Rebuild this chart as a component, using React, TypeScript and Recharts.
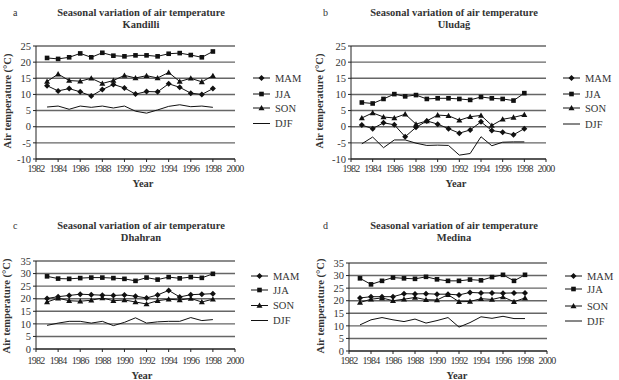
import React from "react";
import { LineChart, Line, XAxis, YAxis, CartesianGrid } from "recharts";

const years = [1983, 1984, 1985, 1986, 1987, 1988, 1989, 1990, 1991, 1992, 1993, 1994, 1995, 1996, 1997, 1998];
const yearTicks = [1982, 1984, 1986, 1988, 1990, 1992, 1994, 1996, 1998, 2000];
const seasons = ["MAM", "JJA", "SON", "DJF"];
const ticksTurkey = [-10, -5, 0, 5, 10, 15, 20, 25];
const ticksArabia = [0, 5, 10, 15, 20, 25, 30, 35];

// Kandilli
const kandilliMAM = [12.7, 11.1, 11.8, 10.8, 9.5, 11.5, 13.1, 12.0, 10.1, 10.9, 10.8, 13.3, 12.2, 10.4, 10.0, 11.8];
const kandilliJJA = [21.3, 21.0, 21.5, 22.7, 21.5, 22.9, 22.0, 21.8, 22.1, 22.1, 21.8, 22.6, 22.8, 22.2, 21.5, 23.3];
const kandilliSON = [14.0, 16.3, 14.3, 14.1, 15.0, 13.4, 14.3, 15.9, 15.1, 15.8, 15.1, 16.8, 14.0, 15.0, 13.9, 15.8];
const kandilliDJF = [6.1, 6.4, 5.4, 6.4, 6.0, 6.4, 5.8, 6.4, 4.8, 4.2, 5.2, 6.3, 6.8, 6.2, 6.4, 6.0];

// Uludağ
const uludagMAM = [0.5, -0.6, 1.2, 0.6, -3.1, -0.2, 1.8, 0.8, -0.6, -2.0, -1.0, 1.5, -1.2, -1.7, -2.5, -0.6];
const uludagJJA = [7.5, 7.2, 8.6, 10.1, 9.4, 9.8, 8.6, 8.8, 8.8, 8.6, 8.3, 9.2, 8.8, 8.6, 8.1, 10.4];
const uludagSON = [2.7, 4.3, 3.0, 2.7, 3.9, 0.8, 1.8, 3.6, 3.4, 2.0, 3.1, 3.5, 0.4, 2.3, 2.9, 3.7];
const uludagDJF = [-5.3, -3.2, -6.5, -4.1, -4.1, -5.1, -5.8, -5.7, -5.8, -8.8, -8.3, -3.1, -5.9, -4.8, -4.7, -4.7];

// Dhahran
const dhahranMAM = [20.1, 20.8, 21.3, 21.8, 21.6, 21.4, 21.3, 21.5, 21.0, 20.3, 21.5, 23.3, 20.7, 21.6, 21.8, 22.0];
const dhahranJJA = [28.9, 28.0, 27.9, 28.2, 28.4, 28.4, 28.2, 27.9, 27.1, 28.4, 27.6, 28.6, 28.1, 28.6, 28.3, 29.9];
const dhahranSON = [18.7, 20.2, 19.2, 19.0, 19.4, 20.3, 19.2, 19.5, 18.7, 17.9, 19.2, 19.8, 19.5, 20.1, 18.7, 19.8];
const dhahranDJF = [9.4, 10.3, 11.0, 11.0, 10.3, 11.0, 9.3, 10.6, 12.4, 10.3, 10.8, 11.0, 11.0, 12.5, 11.3, 11.7];

// Medina
const medinaMAM = [21.1, 21.6, 21.6, 21.6, 22.8, 22.7, 22.8, 22.6, 22.6, 22.3, 23.3, 23.1, 23.1, 23.0, 23.1, 23.1];
const medinaJJA = [28.9, 26.5, 27.9, 29.2, 28.9, 28.7, 29.5, 28.5, 27.9, 27.9, 28.4, 28.1, 29.4, 30.3, 27.9, 30.3];
const medinaSON = [19.3, 20.6, 21.1, 20.0, 20.6, 21.3, 20.4, 20.3, 22.4, 19.6, 19.7, 20.8, 20.5, 21.5, 19.6, 21.1];
const medinaDJF = [10.4, 12.4, 13.3, 12.4, 11.7, 12.7, 11.1, 12.1, 13.3, 9.5, 11.3, 13.6, 13.0, 13.8, 12.9, 12.9];

const serif = "'Liberation Serif', 'Times New Roman', serif";

const toRows = (mam: number[], jja: number[], son: number[], djf: number[]) =>
  years.map((year, i) => ({ year, MAM: mam[i], JJA: jja[i], SON: son[i], DJF: djf[i] }));

const Marker = ({ kind, cx, cy }: { kind: string; cx: number; cy: number }) => {
  if (kind === "MAM") {
    const s = 3;
    return <path d={`M${cx},${cy - s}L${cx + s},${cy}L${cx},${cy + s}L${cx - s},${cy}Z`} fill="#111" />;
  }
  if (kind === "JJA") {
    return <rect x={cx - 2.3} y={cy - 2.3} width={4.6} height={4.6} fill="#111" />;
  }
  if (kind === "SON") {
    return <path d={`M${cx},${cy - 3}L${cx + 3},${cy + 2.3}L${cx - 3},${cy + 2.3}Z`} fill="#111" />;
  }
  return null;
};

const panels = [
  {
    letter: "a", station: "Kandilli", left: 0, top: 0,
    plot: { l: 36, t: 46, r: 235, b: 159 }, domain: [-10, 25], yTicks: ticksTurkey, xMargin: 3,
    data: toRows(kandilliMAM, kandilliJJA, kandilliSON, kandilliDJF),
    titleX: 141, titleY: 15.5, yLabelX: 7, yLabelY: 101, yearX: 143, yearY: 187,
    legendX: 253, legendRows: [78, 94, 108, 123.5],
  },
  {
    letter: "b", station: "Uludağ", left: 310, top: 0,
    plot: { l: 41, t: 46, r: 236, b: 159 }, domain: [-10, 25], yTicks: ticksTurkey, xMargin: 3,
    data: toRows(uludagMAM, uludagJJA, uludagSON, uludagDJF),
    titleX: 144, titleY: 15.5, yLabelX: 9, yLabelY: 101, yearX: 146, yearY: 187,
    legendX: 253, legendRows: [78, 94, 108, 124],
  },
  {
    letter: "c", station: "Dhahran", left: 0, top: 190,
    plot: { l: 36, t: 71, r: 235, b: 159 }, domain: [0, 35], yTicks: ticksArabia, xMargin: 5,
    data: toRows(dhahranMAM, dhahranJJA, dhahranSON, dhahranDJF),
    titleX: 141, titleY: 38.5, yLabelX: 6, yLabelY: 116, yearX: 142, yearY: 189,
    legendX: 251, legendRows: [86, 100, 115.5, 130.5],
  },
  {
    letter: "d", station: "Medina", left: 310, top: 190,
    plot: { l: 39, t: 73, r: 237, b: 161 }, domain: [0, 35], yTicks: ticksArabia, xMargin: 3,
    data: toRows(medinaMAM, medinaJJA, medinaSON, medinaDJF),
    titleX: 144, titleY: 38.5, yLabelX: 10, yLabelY: 116, yearX: 147, yearY: 189,
    legendX: 255, legendRows: [86, 99, 116, 131],
  },
];

const W = 310;
const H = 190;
const Y_AXIS_W = 30;
const X_AXIS_H = 20;

const Panel = ({ p }: { p: (typeof panels)[number] }) => {
  const margin = {
    top: p.plot.t,
    right: W - p.plot.r,
    left: p.plot.l - Y_AXIS_W,
    bottom: H - p.plot.b - X_AXIS_H,
  };
  return (
    <div style={{ position: "absolute", left: p.left, top: p.top, width: W, height: H }}>
      <LineChart width={W} height={H} data={p.data} margin={margin}>
        <CartesianGrid vertical={false} stroke="#666" strokeWidth={1.4} />
        <XAxis
          dataKey="year"
          type="number"
          domain={[1982, 2000]}
          ticks={yearTicks}
          interval={0}
          height={X_AXIS_H}
          stroke="#222"
          tickSize={3}
          tickMargin={p.xMargin}
          tick={{ fontSize: 10, fill: "#333", fontFamily: serif, letterSpacing: -0.8 }}
        />
        <YAxis
          type="number"
          domain={p.domain}
          ticks={p.yTicks}
          interval={0}
          width={Y_AXIS_W}
          stroke="#222"
          tickSize={3}
          tickMargin={2}
          tick={{ fontSize: 10.5, fill: "#333", fontFamily: serif }}
        />
        {seasons.map((s) => (
          <Line
            key={s}
            dataKey={s}
            stroke="#111"
            strokeWidth={1}
            isAnimationActive={false}
            dot={
              s === "DJF"
                ? false
                : (d: any) => <Marker key={`${s}-${d.index}`} kind={s} cx={d.cx} cy={d.cy} />
            }
            activeDot={false}
          />
        ))}
      </LineChart>
      <svg
        width={W}
        height={H}
        style={{ position: "absolute", left: 0, top: 0, pointerEvents: "none" }}
        fontFamily={serif}
      >
        <text x={13} y={p.titleY} fontSize={10} fill="#333">{p.letter}</text>
        <text x={p.titleX} y={p.titleY} fontSize={10.5} fontWeight="bold" fill="#333" textAnchor="middle">
          Seasonal variation of air temperature
        </text>
        <text x={p.titleX} y={p.titleY + 12.5} fontSize={10.5} fontWeight="bold" fill="#333" textAnchor="middle">
          {p.station}
        </text>
        <text
          x={p.yLabelX}
          y={p.yLabelY}
          fontSize={10.5}
          fontWeight="bold"
          fill="#333"
          textAnchor="middle"
          dominantBaseline="central"
          transform={`rotate(-90 ${p.yLabelX} ${p.yLabelY})`}
        >
          Air temperature (°C)
        </text>
        <text x={p.yearX} y={p.yearY} fontSize={10.5} fontWeight="bold" fill="#333" textAnchor="middle">
          Year
        </text>
        {seasons.map((s, i) => {
          const y = p.legendRows[i];
          return (
            <g key={s}>
              <line x1={p.legendX} x2={p.legendX + 17} y1={y} y2={y} stroke="#111" strokeWidth={1} />
              <Marker kind={s} cx={p.legendX + 8.5} cy={y} />
              <text x={p.legendX + 22} y={y} fontSize={10.5} fill="#333" dominantBaseline="central">
                {s}
              </text>
            </g>
          );
        })}
      </svg>
    </div>
  );
}

export default function App() {
  return (
    <div style={{ position: "absolute", left: 0, top: 0, width: 619, height: 380, background: "#fff" }}>
      {panels.map((p) => (
        <Panel key={p.letter} p={p} />
      ))}
    </div>
  );
}
